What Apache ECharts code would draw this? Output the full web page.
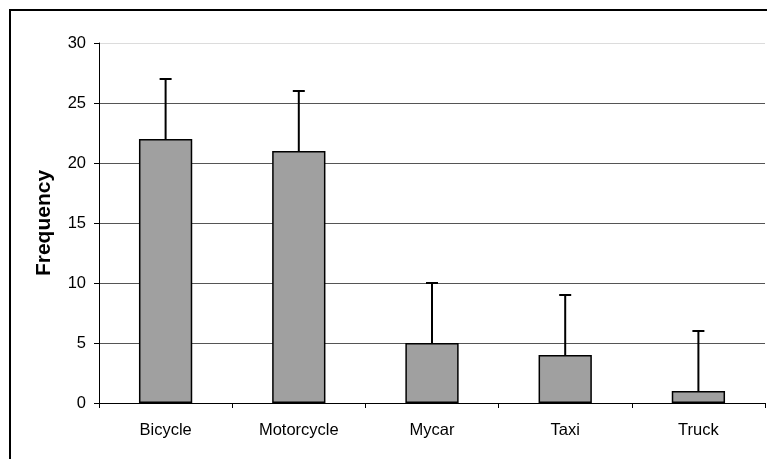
<!DOCTYPE html>
<html>
<head>
<meta charset="utf-8">
<script src="https://cdn.jsdelivr.net/npm/echarts@6/dist/echarts.min.js"></script>
<style>html,body{margin:0;padding:0;background:#fff}#c{width:767px;height:459px}</style>
</head>
<body>
<div id="c"></div>
<script>
var categories = ['Bicycle', 'Motorcycle', 'Mycar', 'Taxi', 'Truck'];
var frequency = [22, 21, 5, 4, 1];
var errorPlus = [5, 5, 5, 5, 5];
var yTicks = [0, 5, 10, 15, 20, 25, 30];

var FONT = 'Arial, "Liberation Sans", sans-serif';
var chart = echarts.init(document.getElementById('c'));
chart.setOption({
  animation: false,
  backgroundColor: '#fff',
  graphic: [{
    type: 'rect', x: 10, y: 10,
    shape: { x: 0, y: 0, width: 820, height: 520 },
    style: { fill: 'none', stroke: '#000', lineWidth: 2 },
    silent: true
  }],
  grid: { left: 99, right: 2, top: 43, bottom: 56 },
  xAxis: {
    type: 'category',
    data: categories,
    axisLine: { lineStyle: { color: '#000', width: 1 } },
    axisTick: { show: true, length: 5, lineStyle: { color: '#000' }, alignWithLabel: false },
    axisLabel: { color: '#000', fontSize: 16.5, fontFamily: FONT, margin: 19 }
  },
  yAxis: {
    type: 'value',
    min: yTicks[0], max: yTicks[yTicks.length - 1], interval: 5,
    name: 'Frequency',
    nameLocation: 'middle',
    nameGap: 44,
    nameMoveOverlap: false,
    nameTextStyle: { color: '#000', fontSize: 21, fontWeight: 'bold', fontFamily: FONT },
    axisLine: { show: true, lineStyle: { color: '#000', width: 1 } },
    axisTick: { show: true, length: 5, lineStyle: { color: '#000' } },
    axisLabel: { color: '#000', fontSize: 16.5, fontFamily: FONT, margin: 13 },
    splitLine: { show: true, lineStyle: { color: ['#000', '#555', '#555', '#555', '#555', '#555', '#dcdcdc'], width: 1 } }
  },
  series: [{
    type: 'bar',
    data: frequency,
    barWidth: '40%',
    itemStyle: { color: '#a0a0a0', borderColor: '#000', borderWidth: 1.5 },
    z: 2
  }, {
    type: 'custom',
    data: frequency.map(function (v, i) { return [i, v, v + errorPlus[i]]; }),
    encode: { x: 0, y: [1, 2] },
    z: 3,
    renderItem: function (params, api) {
      var i = api.value(0);
      var p0 = api.coord([i, api.value(1)]);
      var p1 = api.coord([i, api.value(2)]);
      var half = 6;
      return {
        type: 'group',
        children: [
          { type: 'line', shape: { x1: p0[0], y1: p0[1], x2: p1[0], y2: p1[1] }, style: { stroke: '#000', lineWidth: 2 } },
          { type: 'line', shape: { x1: p1[0] - half, y1: p1[1], x2: p1[0] + half, y2: p1[1] }, style: { stroke: '#000', lineWidth: 2 } }
        ]
      };
    }
  }]
});
</script>
</body>
</html>
